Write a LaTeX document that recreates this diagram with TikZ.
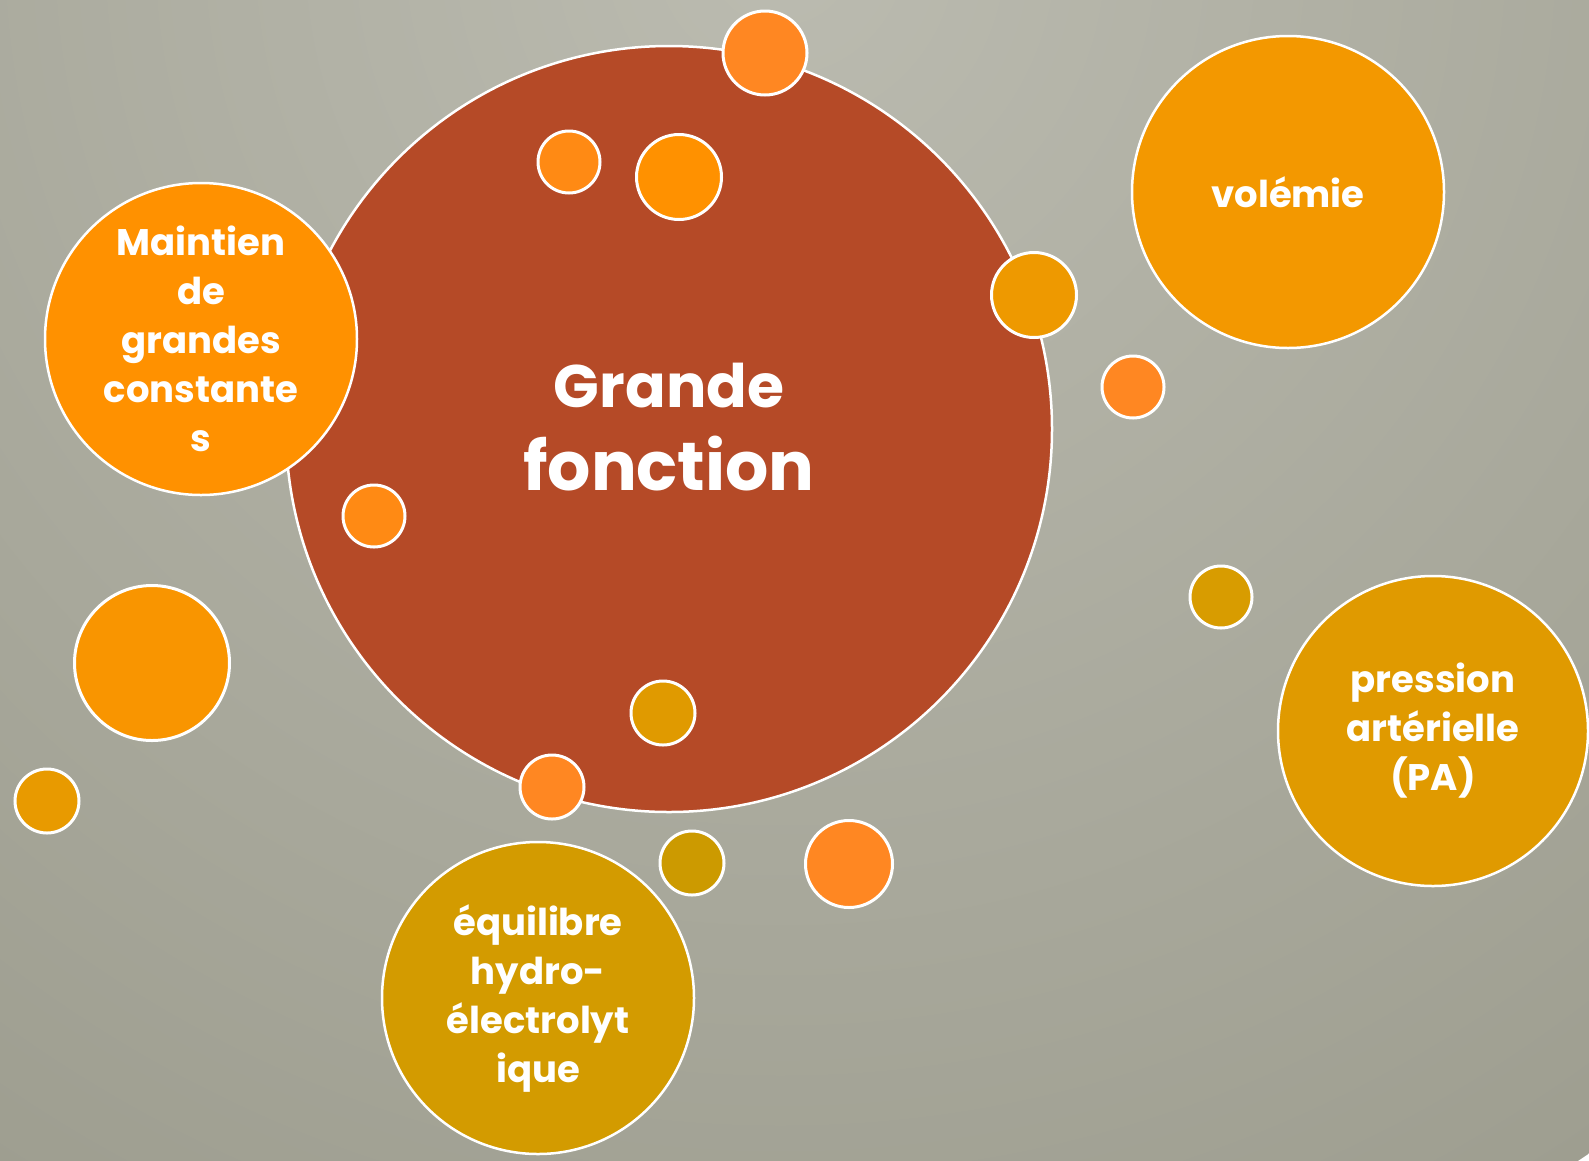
\documentclass[tikz,border=0pt]{standalone}
\usepackage{fontspec}
\setmainfont{Poppins}
\definecolor{rust}{HTML}{B54A27}
\definecolor{orlite}{HTML}{FF8722}
\definecolor{ormid}{HTML}{FF8A14}
\definecolor{orbright}{HTML}{FF9100}
\definecolor{orsun}{HTML}{F99500}
\definecolor{amber}{HTML}{EE9900}
\definecolor{ambsoft}{HTML}{F39800}
\definecolor{ochre}{HTML}{E89A00}
\definecolor{ochmid}{HTML}{E09A00}
\definecolor{mustard}{HTML}{D39B00}
\definecolor{mustdark}{HTML}{CC9A00}
\definecolor{mustlite}{HTML}{D89C00}
\definecolor{bglite}{HTML}{BBBBB0}
\definecolor{bgdark}{HTML}{9E9E90}
\tikzset{
  bub/.style={circle,draw=white,line width=3pt,inner sep=0pt,minimum size=#1},
  big/.style={bub=#1,line width=2.5pt},
  lbl/.style={text=white,align=center,font=\bfseries\fontsize{37}{49}\selectfont},
  title/.style={text=white,inner sep=0pt,anchor=base,font=\bfseries\fontsize{#1}{#1}\selectfont},
}

\begin{document}
\begin{tikzpicture}[x=1pt,y=-1pt]
\useasboundingbox (0,0) rectangle (1589,1160);
% backdrop, lighter near the top
\begin{scope}
\clip (0,0) rectangle (1589,1160);
\shade[inner color=bglite,outer color=bgdark] (780,-50) circle (1450);
\end{scope}
% the central bubble and its two-line title
\node[big=766,fill=rust] (gf) at (669,429) {};
\node[title=60] (gf1) at (669,407) {Grande};
\node[title=68] (gf2) at (669,490) {fonction};
% small dots around it
\foreach \n/\x/\y/\d/\c in {d1/765/53/84/orlite, d2/569/162/62/ormid,
  d3/679/177/85/orbright, d4/1034/295/85/amber, d5/1133/387/62/orlite,
  d6/374/516/62/ormid, d7/152/663/155/orsun, d8/47/801/64/ochre,
  d9/663/713/64/ochmid, d10/552/787/64/orlite, d11/692/863/64/mustdark,
  d12/849/864/87/orlite, d13/1221/597/62/mustlite}
  {\node[bub=\d,fill=\c] (\n) at (\x,\y) {};}
% the four labelled bubbles
\node[big=312,fill=orbright,lbl] (mgc) at (201,339) {Maintien\\de\\grandes\\constante\\s};
\node[big=312,fill=ambsoft,lbl] (vol) at (1288,192) {volémie};
\node[big=310,fill=ochmid,lbl] (pa) at (1433,731) {pression\\artérielle\\(PA)};
\node[big=312,fill=mustard,lbl] (ehe) at (538,998) {équilibre\\hydro-\\électrolyt\\ique};
\end{tikzpicture}
\end{document}
